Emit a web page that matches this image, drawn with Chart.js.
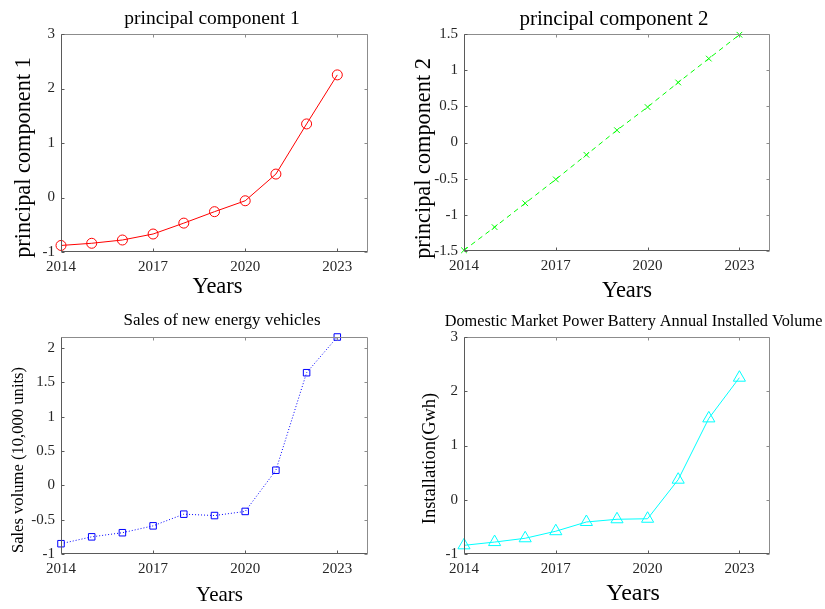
<!DOCTYPE html>
<html>
<head>
<meta charset="utf-8">
<title>Principal components</title>
<script src="https://cdn.jsdelivr.net/npm/chart.js@4.4.1/dist/chart.umd.min.js"></script>
<style>
    body { margin: 0; background: #fff; }
    .wrap { position: relative; width: 825px; height: 609px; overflow: hidden; }
    canvas { position: absolute; }
</style>
</head>
<body>
<div class="wrap">
    <canvas id="c1" width="412" height="300" style="left:0;top:0"></canvas>
    <canvas id="c2" width="413" height="300" style="left:412px;top:0"></canvas>
    <canvas id="c3" width="412" height="309" style="left:0;top:300px"></canvas>
    <canvas id="c4" width="413" height="309" style="left:412px;top:300px"></canvas>
</div>
<script>
// data
const years = [2014, 2015, 2016, 2017, 2018, 2019, 2020, 2021, 2022, 2023];
const pc1 = [-0.88, -0.84, -0.78, -0.67, -0.47, -0.26, -0.06, 0.43, 1.35, 2.25];
const pc2 = [-1.49, -1.17, -0.84, -0.51, -0.17, 0.17, 0.49, 0.83, 1.16, 1.49];
const sales = [-0.85, -0.75, -0.69, -0.59, -0.42, -0.44, -0.38, 0.22, 1.64, 2.16];
const installed = [-0.84, -0.78, -0.71, -0.58, -0.41, -0.36, -0.35, 0.37, 1.50, 2.25];

// axis ticks
const xTicks = [2014, 2017, 2020, 2023];
const yTicks1 = [-1, 0, 1, 2, 3];
const yTicks2 = [-1.5, -1, -0.5, 0, 0.5, 1, 1.5];
const yTicks3 = [-1, -0.5, 0, 0.5, 1, 1.5, 2];
const yTicks4 = [-1, 0, 1, 2, 3];

const SERIF = '"Liberation Serif", "Times New Roman", serif';

// MATLAB style box with inward ticks on all four sides
const boxPlugin = {
    id: 'matlabBox',
    afterDatasetsDraw(chart) {
        const { ctx, chartArea: a, scales } = chart;
        const L = a.left + 0.5, R = a.right - 0.5, T = a.top + 0.5, B = a.bottom - 0.5;
        ctx.save();
        ctx.lineWidth = 1;
        ctx.strokeStyle = '#8c8c8c';
        ctx.beginPath();
        ctx.moveTo(L, T); ctx.lineTo(R, T); ctx.lineTo(R, B);
        scales.x.ticks.forEach(t => {
            const px = Math.round(scales.x.getPixelForValue(t.value)) + 0.5;
            ctx.moveTo(px, T); ctx.lineTo(px, T + 3);
        });
        scales.y.ticks.forEach(t => {
            const py = Math.round(scales.y.getPixelForValue(t.value)) + 0.5;
            ctx.moveTo(R, py); ctx.lineTo(R - 3, py);
        });
        ctx.stroke();
        ctx.strokeStyle = '#5a5a5a';
        ctx.beginPath();
        ctx.moveTo(L, T); ctx.lineTo(L, B); ctx.lineTo(R, B);
        scales.x.ticks.forEach(t => {
            const px = Math.round(scales.x.getPixelForValue(t.value)) + 0.5;
            ctx.moveTo(px, B); ctx.lineTo(px, B - 3);
        });
        scales.y.ticks.forEach(t => {
            const py = Math.round(scales.y.getPixelForValue(t.value)) + 0.5;
            ctx.moveTo(L, py); ctx.lineTo(L + 3, py);
        });
        ctx.stroke();
        ctx.restore();
    }
};

// title, xlabel and ylabel placed like the MATLAB figure
const textPlugin = {
    id: 'panelText',
    afterDraw(chart, args, o) {
        const { ctx, chartArea: a } = chart;
        const cx = (a.left + a.right) / 2;
        const cy = (a.top + a.bottom) / 2;
        ctx.save();
        ctx.fillStyle = '#000';
        ctx.textAlign = 'center';
        ctx.textBaseline = 'alphabetic';
        ctx.font = o.titleSize + 'px ' + SERIF;
        ctx.fillText(o.title, cx + o.titleDx, o.titleY);
        ctx.font = o.xSize + 'px ' + SERIF;
        ctx.fillText(o.xLabel, cx + o.xDx, o.xY);
        ctx.translate(o.yX, cy + o.yDy);
        ctx.rotate(-Math.PI / 2);
        ctx.font = o.ySize + 'px ' + SERIF;
        ctx.fillText(o.yLabel, 0, 0);
        ctx.restore();
    }
};

function makeChart(id, cfg) {
    const canvas = document.getElementById(id);
    const ctx = canvas.getContext('2d');
    return new Chart(ctx, {
        type: 'line',
        data: {
            datasets: [{
                data: years.map((y, i) => ({ x: y, y: cfg.values[i] })),
                borderColor: cfg.color,
                borderWidth: 1,
                borderDash: cfg.dash || [],
                backgroundColor: 'transparent',
                pointStyle: cfg.marker,
                pointRadius: cfg.markerSize,
                pointBorderColor: cfg.color,
                pointBorderWidth: 1,
                pointBackgroundColor: 'transparent',
                tension: 0,
                clip: false
            }]
        },
        options: {
            responsive: false,
            animation: false,
            layout: { padding: { top: cfg.area.top, right: canvas.width - cfg.area.right, left: 0, bottom: 0 } },
            plugins: {
                legend: { display: false },
                tooltip: { enabled: false },
                panelText: cfg.text
            },
            scales: {
                x: {
                    type: 'linear',
                    min: 2014,
                    max: 2024,
                    afterBuildTicks: s => { s.ticks = xTicks.map(v => ({ value: v })); },
                    afterFit: s => { s.height = canvas.height - cfg.area.bottom; },
                    grid: { display: false, drawTicks: false },
                    border: { display: false },
                    ticks: {
                        autoSkip: false,
                        maxRotation: 0,
                        padding: 6,
                        color: '#262626',
                        font: { family: SERIF, size: 15 },
                        callback: v => String(v)
                    }
                },
                y: {
                    type: 'linear',
                    min: cfg.yMin,
                    max: cfg.yMax,
                    afterBuildTicks: s => { s.ticks = cfg.yTicks.map(v => ({ value: v })); },
                    afterFit: s => { s.width = cfg.area.left; },
                    grid: { display: false, drawTicks: false },
                    border: { display: false },
                    ticks: {
                        autoSkip: false,
                        padding: 6,
                        color: '#262626',
                        font: { family: SERIF, size: 15 },
                        callback: v => String(v)
                    }
                }
            }
        },
        plugins: [boxPlugin, textPlugin]
    });
}

makeChart('c1', {
    values: pc1, color: '#ff0000', marker: 'circle', markerSize: 5,
    yMin: -1, yMax: 3, yTicks: yTicks1,
    area: { left: 61, right: 368, top: 34, bottom: 252 },
    text: {
        title: 'principal component 1', titleSize: 19.5, titleDx: -2.5, titleY: 24,
        xLabel: 'Years', xSize: 22.5, xDx: 3, xY: 293,
        yLabel: 'principal component 1', ySize: 22.3, yX: 30, yDy: 14.5
    }
});

makeChart('c2', {
    values: pc2, color: '#00ff00', marker: 'crossRot', markerSize: 4, dash: [5, 4],
    yMin: -1.5, yMax: 1.5, yTicks: yTicks2,
    area: { left: 52, right: 358, top: 34, bottom: 251 },
    text: {
        title: 'principal component 2', titleSize: 21, titleDx: -3, titleY: 25,
        xLabel: 'Years', xSize: 22.5, xDx: 10, xY: 297,
        yLabel: 'principal component 2', ySize: 22.3, yX: 18, yDy: 16
    }
});

makeChart('c3', {
    values: sales, color: '#0000ff', marker: 'rect', markerSize: 4.6, dash: [1, 2],
    yMin: -1, yMax: 2.16, yTicks: yTicks3,
    area: { left: 61, right: 368, top: 37, bottom: 254 },
    text: {
        title: 'Sales of new energy vehicles', titleSize: 17, titleDx: 7.5, titleY: 25,
        xLabel: 'Years', xSize: 21, xDx: 5, xY: 301,
        yLabel: 'Sales volume (10,000 units)', ySize: 16.6, yX: 23, yDy: 14.5
    }
});

makeChart('c4', {
    values: installed, color: '#00ffff', marker: 'triangle', markerSize: 7,
    yMin: -1, yMax: 3, yTicks: yTicks4,
    area: { left: 52, right: 358, top: 37, bottom: 254 },
    text: {
        title: 'Domestic Market Power Battery Annual Installed Volume', titleSize: 16.3, titleDx: 16.5, titleY: 26,
        xLabel: 'Years', xSize: 24, xDx: 16, xY: 300,
        yLabel: 'Installation(Gwh)', ySize: 18.5, yX: 23, yDy: 13
    }
});
</script>
</body>
</html>
